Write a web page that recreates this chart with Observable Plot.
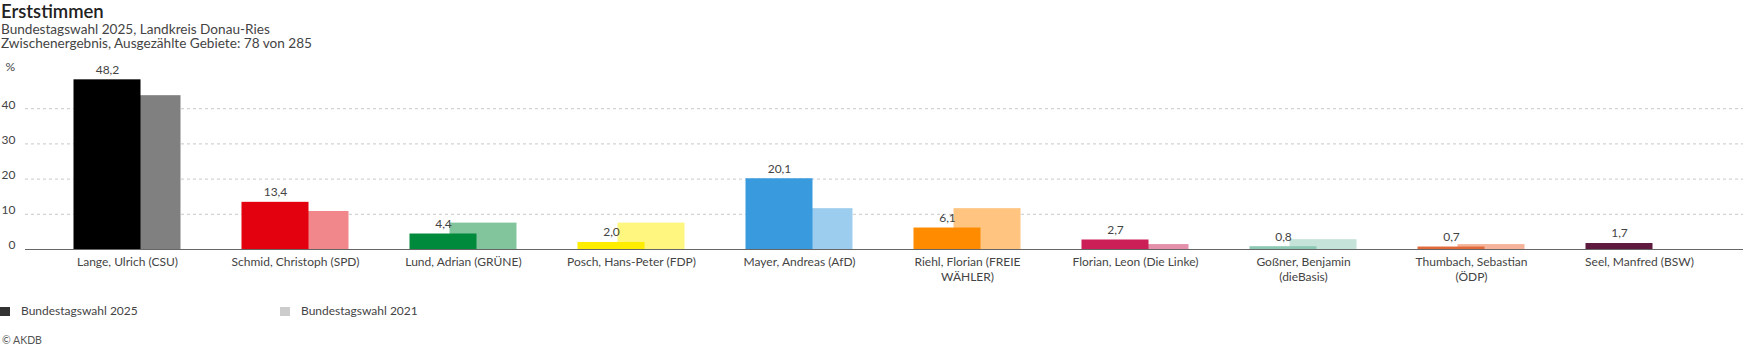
<!DOCTYPE html>
<html>
<head>
<meta charset="utf-8">
<script src="https://cdn.jsdelivr.net/npm/d3@7"></script>
<script src="https://cdn.jsdelivr.net/npm/@observablehq/plot@0.6"></script>
<style>
  body { margin: 0; font-family: Lato, "Noto Sans", sans-serif; color: #333; background: #fff; }
  #wrap { position: relative; width: 1743px; height: 352px; overflow: hidden; }
  .abs { position: absolute; white-space: nowrap; }
  #title { left: 1px; top: 0px; font-size: 18.5px; font-weight: 600; color: #222; line-height: 22px; }
  #sub1 { left: 1px; top: 22px; font-size: 13.6px; line-height: 15px; color: #444; }
  #sub2 { left: 1px; top: 36px; font-size: 13.6px; line-height: 15px; color: #444; }
  #chart { left: 0; top: 52px; }
  .leg { top: 304px; font-size: 12px; line-height: 14px; color: #444; }
  .sw { display: inline-block; width: 10px; height: 9px; margin-right: 11px; vertical-align: -1px; }
  #cap { left: 2px; top: 334px; font-size: 10.5px; color: #555; }
</style>
</head>
<body>
<div id="wrap">
  <div id="title" class="abs">Erststimmen</div>
  <div id="sub1" class="abs">Bundestagswahl 2025, Landkreis Donau-Ries</div>
  <div id="sub2" class="abs">Zwischenergebnis, Ausgezählte Gebiete: 78 von 285</div>
  <div id="chart" class="abs"></div>
  <div class="abs leg" style="left:0px"><span class="sw" style="background:#333"></span>Bundestagswahl 2025</div>
  <div class="abs leg" style="left:280px"><span class="sw" style="background:#ccc"></span>Bundestagswahl 2021</div>
  <div id="cap" class="abs">© AKDB</div>
</div>
<script>
const candidates = [
  "Lange, Ulrich (CSU)",
  "Schmid, Christoph (SPD)",
  "Lund, Adrian (GRÜNE)",
  "Posch, Hans-Peter (FDP)",
  "Mayer, Andreas (AfD)",
  "Riehl, Florian (FREIE\nWÄHLER)",
  "Florian, Leon (Die Linke)",
  "Goßner, Benjamin\n(dieBasis)",
  "Thumbach, Sebastian\n(ÖDP)",
  "Seel, Manfred (BSW)"
];
const values2025 = [48.2, 13.4, 4.4, 2.0, 20.1, 6.1, 2.7, 0.8, 0.7, 1.7];
const values2021 = [43.7, 10.8, 7.5, 7.5, 11.6, 11.6, 1.4, 2.8, 1.4, null];
const colors2025 = ["#000000", "#e3000f", "#008a3c", "#ffed00", "#3a9ade", "#ff8c00", "#cc1f57", "#8dc8b5", "#e06a3a", "#5e1a3f"];
const colors2021 = ["#808080", "#f1868b", "#82c59d", "#fff67f", "#9dcdee", "#ffc47f", "#e590ab", "#c6e3da", "#f5b39b", "#ae8c9f"];
const yTicks = [0, 10, 20, 30, 40];

const rows = candidates.map((name, i) => ({
  name, v25: values2025[i], v21: values2021[i], c25: colors2025[i], c21: colors2021[i]
}));
const rows21 = rows.filter(d => d.v21 != null);
const fmt = v => v.toFixed(1).replace(".", ",");

const chart = Plot.plot({
  width: 1743,
  height: 240,
  marginLeft: 25,
  marginRight: 0,
  marginTop: 21,
  marginBottom: 43,
  style: { fontFamily: "Lato, 'Noto Sans', sans-serif", fontSize: "12px", color: "#333", background: "transparent" },
  x: { domain: candidates, range: [42.5, 1722.5], padding: 0 },
  y: { domain: [0, 50] },
  color: { type: "identity" },
  marks: [
    Plot.gridY(yTicks.filter(t => t > 0), { stroke: "#c8c8c8", strokeOpacity: 1, strokeDasharray: "3,3" }),
    Plot.axisY(yTicks, { tickSize: 0, tickPadding: 10, dy: -4, label: null, fill: "#444", fontSize: 12 }),
    Plot.text(["%"], { frameAnchor: "top-left", dx: -20, dy: -11, fill: "#444", fontSize: 12 }),
    Plot.barY(rows21, { x: "name", y: "v21", fill: "c21", insetLeft: 70.5, insetRight: 30.5 }),
    Plot.barY(rows, { x: "name", y: "v25", fill: "c25", insetLeft: 30.5, insetRight: 70.5 }),
    Plot.ruleY([0], { stroke: "#666", strokeWidth: 1 }),
    Plot.text(rows, { x: "name", y: "v25", text: d => fmt(d.v25), dx: -20, dy: -10, fill: "#444", fontSize: 12 }),
    Plot.axisX({ tickSize: 0, tickPadding: 6, label: null, fill: "#444", fontSize: 12, lineHeight: 1.25 })
  ]
});
document.getElementById("chart").appendChild(chart);
</script>
</body>
</html>
